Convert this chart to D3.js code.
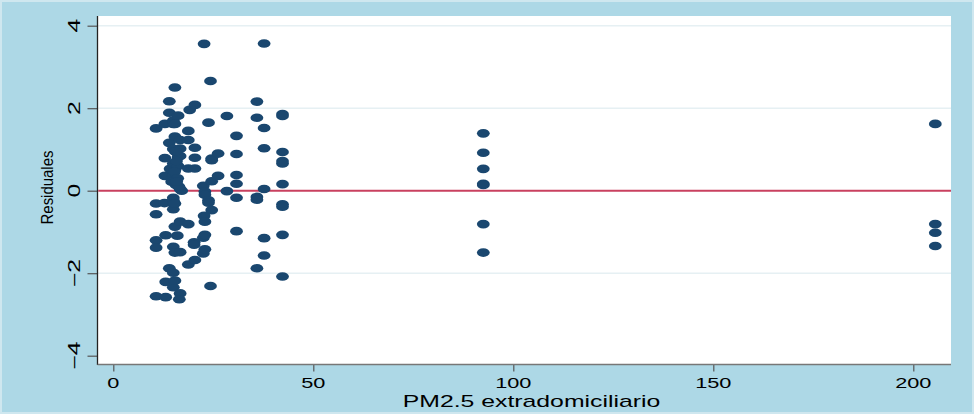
<!DOCTYPE html>
<html>
<head>
<meta charset="utf-8">
<script src="https://cdn.jsdelivr.net/npm/d3@7"></script>
<style>
  html, body { margin: 0; padding: 0; background: #add8e6; }
  svg { display: block; }
  text { font-family: "Liberation Sans", Arial, Helvetica, sans-serif; fill: #000; }
</style>
</head>
<body>
<svg id="chart" width="974" height="414"></svg>
<script>
// PM2.5 outdoor exposure (x) and model residuals (y)
const pm25 = [
  10.7, 10.7, 10.7, 10.7, 10.7, 10.7,
  12.9, 12.9, 12.9, 13.1, 13.1, 13.1, 12.8,
  14.0, 14.0, 14.0, 14.0, 14.2,
  15.0, 15.0, 15.0, 15.0, 15.0, 15.0, 15.0, 15.0, 15.0, 15.0, 15.0, 15.0,
  15.4, 15.4, 15.4, 15.4, 15.4, 15.4, 15.4, 15.4, 15.4,
  16.2, 16.2, 16.2, 16.0,
  16.7, 16.7, 16.7, 16.7, 16.7, 16.7, 16.7, 16.5, 17.1,
  15.5, 15.8, 15.3, 16.1, 15.7, 16.4, 14.6, 15.85,
  18.75, 18.75, 18.75, 18.75, 18.75, 19.1,
  20.4, 20.4, 20.4, 20.4, 20.4, 20.2, 20.2,
  22.7, 22.7, 22.5, 22.5, 22.5, 22.9, 22.9, 22.9, 22.9, 22.9,
  23.8, 23.8, 23.8,
  24.3, 24.3, 24.6, 24.6, 24.6, 24.6,
  26.2, 26.2,
  28.4, 28.4,
  30.8, 30.8, 30.8, 30.8, 30.8, 30.8,
  35.9, 35.9, 35.9, 35.9, 35.9,
  37.7, 37.7, 37.7, 37.7, 37.7, 37.7,
  42.3, 42.3, 42.3, 42.3, 42.3, 42.3, 42.3, 42.3, 42.3, 42.3,
  92.5, 92.5, 92.5, 92.5, 92.5, 92.5, 92.5,
  205.5, 205.5, 205.5, 205.5
];
const residuales = [
  1.51, -0.31, -0.57, -1.20, -1.38, -2.56,
  1.62, 0.79, 0.36, -1.08, -2.21, -2.58, -0.30,
  2.17, 1.89, 1.16, -1.88, 0.53,
  1.70, 1.62, 1.01, 0.66, 0.36, -0.17, -0.23, -0.31, -0.45, -1.36, -1.99, -2.34,
  2.50, 1.31, 0.50, 0.26, -0.31, -0.87, -1.50, -2.18, 1.62,
  1.82, 0.82, 0.60, -1.09,
  1.23, 1.02, 0.84, 0.04, -0.75, -1.49, -2.49, -2.63, 0.00,
  0.95, 0.72, 0.46, 0.30, 0.14, 0.10, 0.22, 0.22,
  1.45, 1.23, 0.54, -0.81, -1.79, 1.96,
  2.08, 1.04, 0.80, 0.54, -1.68, -1.25, -1.31,
  3.56, -0.61, 0.12, -1.14, -1.52, -0.02, -0.10, -0.75, -1.07, -1.42,
  1.65, -0.23, -0.29,
  2.66, -2.31, 0.78, 0.74, 0.23, -0.47,
  0.90, 0.36,
  1.81, -0.01,
  1.33, 0.89, 0.38, 0.17, -0.17, -0.98,
  2.16, 1.77, -0.15, -0.22, -1.88,
  3.57, 1.52, 1.03, 0.04, -1.15, -1.57,
  1.86, 1.81, 0.94, 0.72, 0.66, 0.16, -0.33, -0.39, -1.07, -2.08,
  1.39, 0.92, 0.53, 0.17, 0.14, -0.81, -1.50,
  1.62, -0.81, -1.02, -1.34
];
const xTicks = [0, 50, 100, 150, 200];
const yTicks = [-4, -2, 0, 2, 4];
const yGrid = [-2, 2, 4];
const xTitle = "PM2.5 extradomiciliario";
const yTitle = "Residuales";

const svg = d3.select("#chart");
const W = 974, H = 414;
const plot = { left: 97.5, right: 951, top: 16, bottom: 364.5 };

const x = d3.scaleLinear().domain([0, 200]).range([113.3, 913.3]);
const y = d3.scaleLinear().domain([-4, 4]).range([355.7, 25.7]);

// outer background with a pale frame
svg.append("rect").attr("x", 0).attr("y", 0).attr("width", W).attr("height", H)
  .attr("fill", "#add8e6");
svg.append("rect").attr("x", 1).attr("y", 1).attr("width", W - 2).attr("height", H - 2)
  .attr("fill", "none").attr("stroke", "#cfe7ef").attr("stroke-width", 2);

// plot region
svg.append("rect")
  .attr("x", plot.left).attr("y", plot.top)
  .attr("width", plot.right - plot.left).attr("height", plot.bottom - plot.top)
  .attr("fill", "#ffffff");

// horizontal grid
svg.append("g").selectAll("line").data(yGrid).join("line")
  .attr("x1", plot.left).attr("x2", plot.right)
  .attr("y1", d => y(d)).attr("y2", d => y(d))
  .attr("stroke", "#e6f0f3").attr("stroke-width", 1.5);

// y axis
const yAxis = d3.axisLeft(y).tickValues(yTicks).tickSize(10).tickFormat("");
const gy = svg.append("g").attr("transform", `translate(${plot.left},0)`).call(yAxis);
gy.select(".domain").remove();
gy.selectAll(".tick line").attr("stroke", "#555").attr("stroke-width", 1.2);
svg.append("line")
  .attr("x1", plot.left).attr("x2", plot.left)
  .attr("y1", plot.top).attr("y2", plot.bottom + 0.5)
  .attr("stroke", "#222").attr("stroke-width", 1.3);
svg.append("g").selectAll("text").data(yTicks).join("text")
  .attr("transform", d => `translate(80,${y(d)}) rotate(-90) scale(1.55,1)`)
  .attr("text-anchor", "middle")
  .style("font-size", "16px")
  .text(d => d3.format("d")(d));

// x axis
const xAxis = d3.axisBottom(x).tickValues(xTicks).tickSize(7).tickFormat("");
const gx = svg.append("g").attr("transform", `translate(0,${plot.bottom})`).call(xAxis);
gx.select(".domain").remove();
gx.selectAll(".tick line").attr("stroke", "#555").attr("stroke-width", 1.2);
svg.append("line")
  .attr("x1", plot.left).attr("x2", plot.right)
  .attr("y1", plot.bottom).attr("y2", plot.bottom)
  .attr("stroke", "#777").attr("stroke-width", 1.3);
svg.append("g").selectAll("text").data(xTicks).join("text")
  .attr("transform", d => `translate(${x(d)},387.5) scale(1.45,1)`)
  .attr("text-anchor", "middle")
  .style("font-size", "15px")
  .text(d => d);

// axis titles
svg.append("text")
  .attr("transform", "translate(531.5,407) scale(1.55,1)")
  .attr("text-anchor", "middle")
  .style("font-size", "16px")
  .text(xTitle);
svg.append("text")
  .attr("transform", "translate(53,187.5) rotate(-90) scale(0.88,1)")
  .attr("text-anchor", "middle")
  .style("font-size", "17px")
  .text(yTitle);

// reference line at zero
svg.append("line")
  .attr("x1", plot.left + 0.7).attr("x2", plot.right)
  .attr("y1", y(0)).attr("y2", y(0))
  .attr("stroke", "#c9415f").attr("stroke-width", 2);

// residual points
const pts = pm25.map((v, i) => ({ x: v, y: residuales[i] }));
svg.append("g").selectAll("ellipse").data(pts).join("ellipse")
  .attr("cx", d => x(d.x)).attr("cy", d => y(d.y))
  .attr("rx", 6.4).attr("ry", 4.3)
  .attr("fill", "#1a476f");
</script>
</body>
</html>
